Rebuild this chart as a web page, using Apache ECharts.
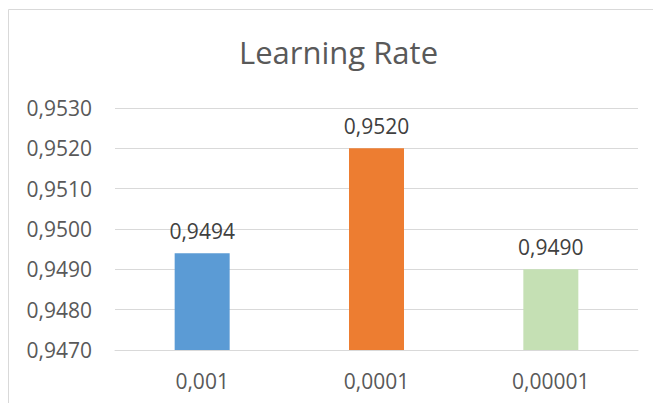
<!DOCTYPE html>
<html>
<head>
<meta charset="utf-8">
<script src="https://cdn.jsdelivr.net/npm/echarts@6.0.0/dist/echarts.min.js"></script>
<style>
  html, body { margin: 0; padding: 0; background: #fff; }
  #chart { width: 653px; height: 403px; }
</style>
</head>
<body>
<div id="chart"></div>
<script>
// learning-rate comparison, values
const categories = ["0,001", "0,0001", "0,00001"];
const scores = [0.9494, 0.9520, 0.9490];
const barColors = ["#5B9BD5", "#ED7D31", "#C5E0B4"];
const yTicks = { min: 0.947, max: 0.953, step: 0.001 };

const FONT = "'Open Sans', sans-serif";
const comma = (v, digits) => v.toFixed(digits).replace(".", ",");

const chart = echarts.init(document.getElementById("chart"), null, { renderer: "svg" });

chart.setOption({
  animation: false,
  backgroundColor: "#fff",
  textStyle: { fontFamily: FONT },
  title: {
    text: "Learning Rate",
    left: 234, top: 31,
    textStyle: { fontFamily: FONT, fontSize: 31, fontWeight: "normal", color: "#595959" },
  },
  // chart frame, only its top/left edges fall inside the picture
  graphic: [{
    type: "rect", silent: true, z: -1,
    shape: { x: 8.5, y: 9.5, width: 700, height: 500 },
    style: { fill: "none", stroke: "#d9d9d9", lineWidth: 1 },
  }],
  grid: { left: 115, right: 15, top: 108, bottom: 53 },
  xAxis: {
    type: "category",
    data: categories,
    axisLine: { lineStyle: { color: "#d9d9d9", width: 1 } },
    axisTick: { show: false },
    axisLabel: { color: "#595959", fontSize: 21, fontFamily: FONT, margin: 20 },
  },
  yAxis: {
    type: "value",
    min: yTicks.min, max: yTicks.max, interval: yTicks.step,
    axisLine: { show: false },
    axisTick: { show: false },
    splitLine: { lineStyle: { color: "#d9d9d9", width: 1 } },
    axisLabel: {
      color: "#595959", fontSize: 21, fontFamily: FONT, margin: 23,
      formatter: v => comma(v, 4),
    },
  },
  series: [{
    type: "bar",
    barWidth: 55,
    data: scores.map((v, i) => ({ value: v, itemStyle: { color: barColors[i] } })),
    label: {
      show: true, position: "top", distance: 12,
      color: "#404040", fontSize: 21, fontFamily: FONT,
      formatter: p => comma(p.value, 4),
    },
  }],
});
</script>
</body>
</html>
